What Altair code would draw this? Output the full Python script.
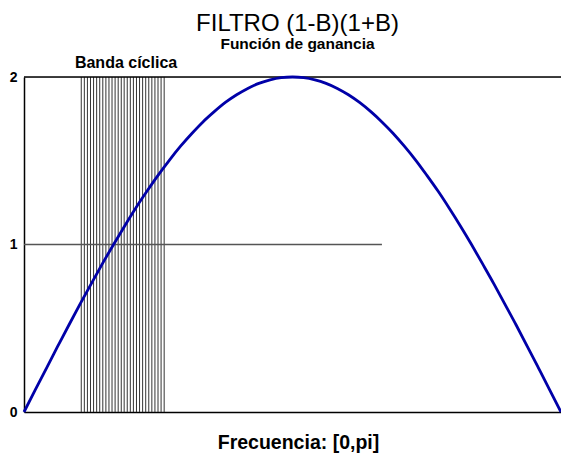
import altair as alt
import pandas as pd

# Gain curve (x in radians, y gain)
curve_x = [0.0, 0.065, 0.131, 0.196, 0.262, 0.327, 0.393, 0.458, 0.524, 0.589, 0.654, 0.720,
           0.785, 0.851, 0.916, 0.982, 1.047, 1.113, 1.178, 1.244, 1.309, 1.374, 1.440, 1.505,
           1.571, 1.636, 1.702, 1.767, 1.833, 1.898, 1.963, 2.029, 2.094, 2.160, 2.225, 2.291,
           2.356, 2.422, 2.487, 2.553, 2.618, 2.683, 2.749, 2.814, 2.880, 2.945, 3.011, 3.076, 3.1416]
curve_y = [0.0, 0.131, 0.261, 0.390, 0.518, 0.643, 0.765, 0.884, 1.0, 1.111, 1.218, 1.319,
           1.414, 1.504, 1.587, 1.663, 1.732, 1.793, 1.848, 1.894, 1.932, 1.962, 1.983, 1.996,
           2.0, 1.996, 1.983, 1.962, 1.932, 1.894, 1.848, 1.793, 1.732, 1.663, 1.587, 1.504,
           1.414, 1.319, 1.218, 1.111, 1.0, 0.884, 0.765, 0.643, 0.518, 0.390, 0.261, 0.131, 0.0]

# Vertical hatch lines of the cyclical band
band_x = [0.335, 0.353, 0.371, 0.389, 0.407, 0.425, 0.443, 0.461, 0.479, 0.497, 0.515, 0.533,
          0.551, 0.569, 0.586, 0.604, 0.622, 0.640, 0.658, 0.676, 0.694, 0.712, 0.730, 0.748,
          0.766, 0.784, 0.802, 0.820]
band_label = ["Banda cíclica"]
band_label_x = [0.597]

# Reference line at gain 1 and top line at gain 2
ref_x = [0.0]
ref_x2 = [2.094]
ref_y = [1.0]
top_x = [0.0]
top_x2 = [3.1416]
top_y = [2.0]

y_ticks = [0, 1, 2]

curve_df = pd.DataFrame({"x": curve_x, "y": curve_y})
band_df = pd.DataFrame({"x": band_x, "y": [0.0] * len(band_x), "y1": [2.0] * len(band_x)})
label_df = pd.DataFrame({"x": band_label_x, "y": [2.0], "t": band_label})
ref_df = pd.DataFrame({"x": ref_x, "x2": ref_x2, "y": ref_y})
top_df = pd.DataFrame({"x": top_x, "x2": top_x2, "y": top_y})

xs = alt.Scale(domain=[0, 3.1416], nice=False, zero=False)
ys = alt.Scale(domain=[0, 2], nice=False)

x_axis = alt.Axis(labels=False, ticks=False, grid=False, domainColor="black", domainWidth=1.5,
                  title="Frecuencia: [0,pi]", titleFont="Liberation Sans", titleFontSize=19.5,
                  titleFontWeight="bold", titleColor="black", titlePadding=21, titleX=274)
y_axis = alt.Axis(values=y_ticks, format=".0f", ticks=False, grid=False, domainColor="black",
                  domainWidth=1.5, labelFont="Liberation Sans", labelFontSize=14,
                  labelFontWeight="bold", labelColor="black", labelPadding=7, title=None,
                  labelOverlap=False)

X = alt.X("x:Q", scale=xs, axis=x_axis)
Y = alt.Y("y:Q", scale=ys, axis=y_axis)

band = alt.Chart(band_df).mark_rule(color="#333333", strokeWidth=1).encode(x=X, y=Y, y2="y1:Q")

ref = alt.Chart(ref_df).mark_rule(color="#555555", strokeWidth=1.5).encode(x=X, x2="x2:Q", y=Y)

top = alt.Chart(top_df).mark_rule(color="black", strokeWidth=1.5).encode(x=X, x2="x2:Q", y=Y)

line = alt.Chart(curve_df).mark_line(color="#0000A8", strokeWidth=2.8, interpolate="natural").encode(
    x=X, y=Y
)

label = alt.Chart(label_df).mark_text(
    font="Liberation Sans", fontSize=16, fontWeight="bold", color="black", dy=-9, baseline="alphabetic"
).encode(x=X, y=Y, text="t:N")

chart = alt.layer(band, ref, top, line, label).properties(
    width=537,
    height=335,
    padding={"left": 16, "top": 69, "right": 0, "bottom": 50},
    autosize=alt.AutoSizeParams(type="none"),
    title=alt.TitleParams(
        text="FILTRO (1-B)(1+B)",
        subtitle="Función de ganancia",
        font="Liberation Sans",
        fontSize=24,
        fontWeight="normal",
        color="black",
        subtitleFont="Liberation Sans",
        subtitleFontSize=15.5,
        subtitleFontWeight="bold",
        subtitleColor="black",
        subtitlePadding=1,
        anchor="middle",
        frame="group",
        offset=3,
        dx=5,
    ),
).configure_view(stroke=None).configure(background="white")

chart.save("out.html", embed_options={"renderer": "svg", "actions": False})
